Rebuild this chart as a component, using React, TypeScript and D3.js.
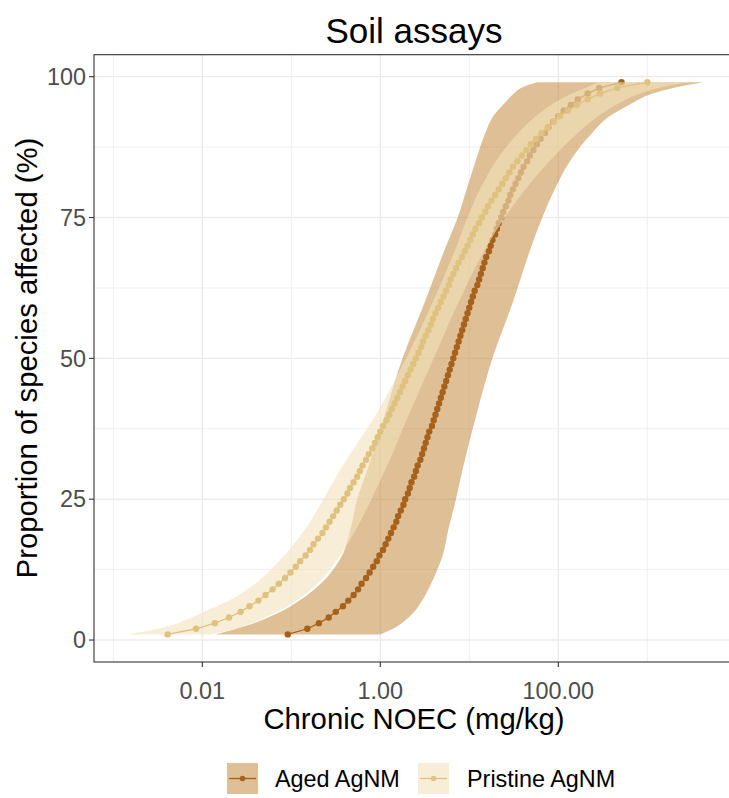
import React from 'react';
import * as d3 from 'd3';

// Percent of species affected for each fitted point (1..99 %)
const percents = [
  1, 2, 3, 4, 5, 6, 7, 8, 9, 10, 11, 12, 13, 14, 15, 16, 17, 18, 19, 20,
  21, 22, 23, 24, 25, 26, 27, 28, 29, 30, 31, 32, 33, 34, 35, 36, 37, 38, 39, 40,
  41, 42, 43, 44, 45, 46, 47, 48, 49, 50, 51, 52, 53, 54, 55, 56, 57, 58, 59, 60,
  61, 62, 63, 64, 65, 66, 67, 68, 69, 70, 71, 72, 73, 74, 75, 76, 77, 78, 79, 80,
  81, 82, 83, 84, 85, 86, 87, 88, 89, 90, 91, 92, 93, 94, 95, 96, 97, 98, 99,
];

// log10 of chronic NOEC (mg/kg) for the fitted curves
const agedLog10 = [
  -1.04, -0.82, -0.69, -0.58, -0.5, -0.42, -0.36, -0.3, -0.25, -0.21,
  -0.16, -0.12, -0.08, -0.04, -0.01, 0.03, 0.06, 0.09, 0.12, 0.15,
  0.18, 0.2, 0.23, 0.26, 0.28, 0.31, 0.33, 0.35, 0.38, 0.4,
  0.42, 0.45, 0.47, 0.49, 0.51, 0.53, 0.55, 0.58, 0.6, 0.62,
  0.64, 0.66, 0.68, 0.7, 0.72, 0.74, 0.76, 0.78, 0.8, 0.82,
  0.84, 0.86, 0.88, 0.9, 0.92, 0.94, 0.96, 0.98, 1.0, 1.02,
  1.04, 1.06, 1.09, 1.11, 1.13, 1.15, 1.17, 1.19, 1.22, 1.24,
  1.26, 1.29, 1.31, 1.33, 1.36, 1.38, 1.41, 1.44, 1.46, 1.49,
  1.52, 1.55, 1.58, 1.61, 1.65, 1.68, 1.72, 1.76, 1.8, 1.85,
  1.89, 1.94, 2.0, 2.06, 2.14, 2.22, 2.33, 2.46, 2.71,
];

const pristineLog10 = [
  -2.39, -2.07, -1.86, -1.7, -1.57, -1.47, -1.37, -1.29, -1.21, -1.14,
  -1.07, -1.01, -0.95, -0.9, -0.84, -0.79, -0.75, -0.7, -0.65, -0.61,
  -0.57, -0.53, -0.49, -0.45, -0.41, -0.37, -0.34, -0.3, -0.26, -0.23,
  -0.2, -0.16, -0.13, -0.09, -0.06, -0.03, 0.0, 0.03, 0.07, 0.1,
  0.13, 0.16, 0.19, 0.22, 0.25, 0.28, 0.31, 0.34, 0.37, 0.4,
  0.43, 0.46, 0.48, 0.51, 0.54, 0.57, 0.59, 0.62, 0.65, 0.68,
  0.71, 0.74, 0.77, 0.79, 0.82, 0.85, 0.88, 0.92, 0.95, 0.98,
  1.01, 1.04, 1.07, 1.11, 1.14, 1.18, 1.21, 1.25, 1.29, 1.33,
  1.37, 1.41, 1.45, 1.49, 1.54, 1.59, 1.64, 1.69, 1.75, 1.81,
  1.88, 1.95, 2.02, 2.11, 2.21, 2.33, 2.47, 2.66, 3.0,
];

// Confidence bands (log10 mg/kg) at these percent levels
const bandPercents = [1, 2, 3, 5, 7, 10, 15, 20, 25, 30, 40, 50, 60, 70, 75, 80, 85, 90, 93, 95, 97, 98, 99];
const agedLowerLog10 = [-1.85, -1.62, -1.42, -1.12, -0.91, -0.67, -0.43, -0.33, -0.26, -0.15, 0.05, 0.25, 0.5, 0.74, 0.87, 0.97, 1.07, 1.18, 1.27, 1.38, 1.5, 1.58, 1.76];
const agedUpperLog10 = [0.0, 0.14, 0.24, 0.38, 0.47, 0.57, 0.7, 0.77, 0.85, 0.92, 1.08, 1.26, 1.49, 1.7, 1.82, 1.96, 2.13, 2.38, 2.58, 2.8, 3.06, 3.29, 3.63];
const pristineLowerLog10 = [-2.83, -2.5, -2.28, -1.98, -1.7, -1.41, -1.08, -0.83, -0.64, -0.46, -0.05, 0.29, 0.59, 0.86, 0.98, 1.12, 1.3, 1.55, 1.75, 1.92, 2.15, 2.3, 2.45];
const pristineUpperLog10 = [-1.9, -1.62, -1.45, -1.16, -0.94, -0.71, -0.45, -0.26, -0.1, 0.05, 0.32, 0.6, 0.88, 1.2, 1.4, 1.63, 1.9, 2.22, 2.45, 2.65, 2.92, 3.12, 3.45];

const xTicks = [0.01, 1, 100];
const xTickLabels = ['0.01', '1.00', '100.00'];
const xMinor = [0.001, 0.1, 10, 1000];
const yTicks = [0, 25, 50, 75, 100];
const yMinor = [12.5, 37.5, 62.5, 87.5];
const seriesNames = ['Aged AgNM', 'Pristine AgNM'];

const FONT = "'Liberation Sans', Arial, Helvetica, sans-serif";
const W = 729;
const H = 798;
const P = { left: 94, right: 734, top: 54.7, bottom: 662 };

const AGED_LINE = '#A6611A';
const AGED_FILL = '#BF812D';
const AGED_ALPHA = 0.5;
const PRIS_LINE = '#DFC27D';
const PRIS_FILL = '#F3E3BC';
const PRIS_ALPHA = 0.6;

export default function App() {
  const x = d3.scaleLog().domain([10 ** -3.217, 10 ** 3.974]).range([P.left, P.right]);
  const y = d3.scaleLinear().domain([-3.9, 103.9]).range([P.bottom, P.top]);

  const band = (lo: number[], hi: number[]) =>
    d3
      .area<number>()
      .y((p) => y(p))
      .x0((_, i) => x(10 ** lo[i]))
      .x1((_, i) => x(10 ** hi[i]))
      .curve(d3.curveMonotoneY)(bandPercents) as string;

  const line = (vals: number[]) =>
    d3
      .line<number>()
      .x((_, i) => x(10 ** vals[i]))
      .y((p) => y(p))(percents) as string;

  const points = (vals: number[], color: string) =>
    percents.map((p, i) => (
      <circle key={i} cx={x(10 ** vals[i])} cy={y(p)} r={3.2} fill={color} />
    ));

  const legendItems = [
    { name: seriesNames[0], fill: AGED_FILL, alpha: AGED_ALPHA, line: AGED_LINE, kx: 227, tx: 275 },
    { name: seriesNames[1], fill: PRIS_FILL, alpha: PRIS_ALPHA, line: PRIS_LINE, kx: 418, tx: 467 },
  ];

  return (
    <svg
      width={W}
      height={H}
      style={{ position: 'absolute', left: 0, top: 0, background: '#fff' }}
      fontFamily={FONT}
    >
      <defs>
        <clipPath id="panel">
          <rect x={P.left} y={P.top} width={P.right - P.left} height={P.bottom - P.top} />
        </clipPath>
      </defs>
      <rect x={0} y={0} width={W} height={H} fill="#fff" />
      <text x={414} y={43} textAnchor="middle" fontSize={35} fill="#000">
        Soil assays
      </text>

      <g clipPath="url(#panel)">
        {xMinor.map((v) => (
          <line key={'xm' + v} x1={x(v)} x2={x(v)} y1={P.top} y2={P.bottom} stroke="#EBEBEB" strokeWidth={0.8} />
        ))}
        {yMinor.map((v) => (
          <line key={'ym' + v} x1={P.left} x2={P.right} y1={y(v)} y2={y(v)} stroke="#EBEBEB" strokeWidth={0.8} />
        ))}
        {xTicks.map((v) => (
          <line key={'xg' + v} x1={x(v)} x2={x(v)} y1={P.top} y2={P.bottom} stroke="#EBEBEB" strokeWidth={1.4} />
        ))}
        {yTicks.map((v) => (
          <line key={'yg' + v} x1={P.left} x2={P.right} y1={y(v)} y2={y(v)} stroke="#EBEBEB" strokeWidth={1.4} />
        ))}

        <path d={band(agedLowerLog10, agedUpperLog10)} fill={AGED_FILL} fillOpacity={AGED_ALPHA} />
        <path d={line(agedLog10)} fill="none" stroke={AGED_LINE} strokeWidth={1.3} />
        {points(agedLog10, AGED_LINE)}

        <path d={band(pristineLowerLog10, pristineUpperLog10)} fill={PRIS_FILL} fillOpacity={PRIS_ALPHA} />
        <path d={line(pristineLog10)} fill="none" stroke={PRIS_LINE} strokeWidth={1.3} />
        {points(pristineLog10, PRIS_LINE)}
      </g>

      <rect
        x={P.left}
        y={P.top}
        width={P.right - P.left}
        height={P.bottom - P.top}
        fill="none"
        stroke="#333"
        strokeWidth={1.1}
      />

      {xTicks.map((v, i) => (
        <g key={'xt' + v}>
          <line x1={x(v)} x2={x(v)} y1={P.bottom} y2={P.bottom + 5} stroke="#333" strokeWidth={1.1} />
          <text x={x(v)} y={699} textAnchor="middle" fontSize={23.4} fill="#4D4D4D">
            {xTickLabels[i]}
          </text>
        </g>
      ))}
      {yTicks.map((v) => (
        <g key={'yt' + v}>
          <line x1={P.left - 5} x2={P.left} y1={y(v)} y2={y(v)} stroke="#333" strokeWidth={1.1} />
          <text x={86} y={y(v) + 8.2} textAnchor="end" fontSize={23.4} fill="#4D4D4D">
            {v}
          </text>
        </g>
      ))}

      <text x={414} y={729} textAnchor="middle" fontSize={29.3} fill="#000">
        Chronic NOEC (mg/kg)
      </text>
      <text transform="translate(37,358) rotate(-90)" textAnchor="middle" fontSize={29.3} fill="#000">
        Proportion of species affected (%)
      </text>

      {legendItems.map((it) => (
        <g key={it.name}>
          <rect x={it.kx} y={763} width={31} height={31} fill="#fff" />
          <rect x={it.kx} y={763} width={31} height={31} fill={it.fill} fillOpacity={it.alpha} />
          <line x1={it.kx + 2} x2={it.kx + 29} y1={778.5} y2={778.5} stroke={it.line} strokeWidth={1.3} />
          <circle cx={it.kx + 15.5} cy={778.5} r={2.8} fill={it.line} />
          <text x={it.tx} y={787} fontSize={23.4} fill="#000">
            {it.name}
          </text>
        </g>
      ))}
    </svg>
  );
}
